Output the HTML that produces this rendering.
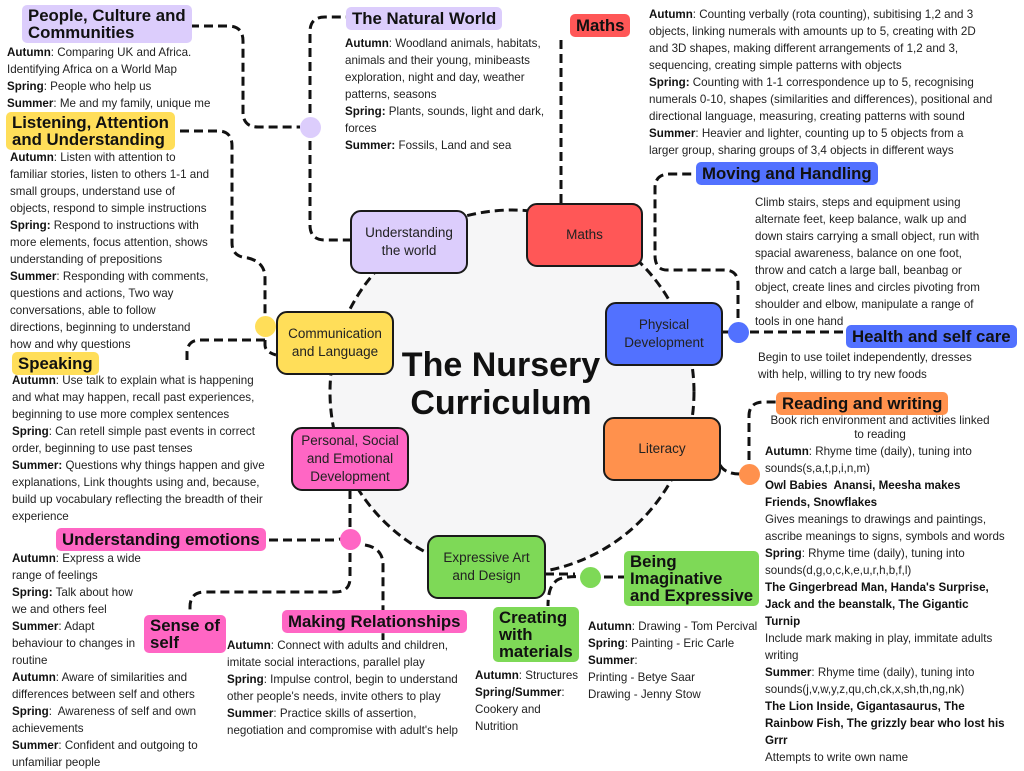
<!DOCTYPE html>
<html><head><meta charset="utf-8"><style>
body{margin:0;width:1024px;height:768px;background:#fff;position:relative;overflow:hidden;font-family:"Liberation Sans",sans-serif}
.t{position:absolute;font-size:11.6px;line-height:17px;color:#222;white-space:nowrap}
.t b{color:#111}
.l{position:absolute;font-weight:bold;font-size:16.8px;line-height:19px;color:#111;padding:2px 6px;border-radius:5px;white-space:nowrap}
.n{position:absolute;border:2px solid #1a1a1a;border-radius:11px;display:flex;align-items:center;justify-content:center;text-align:center;font-size:13.5px;line-height:18px;color:#222;box-sizing:border-box}
.d{position:absolute;border-radius:50%}
</style></head><body>
<svg width="1024" height="768" style="position:absolute;left:0;top:0" fill="none" stroke="#111" stroke-width="3" stroke-dasharray="9 5">
<circle cx="512" cy="392" r="182" fill="#f6f6f7"/>
<path d="M190 26 H228 Q243 26 243 41 V112 Q243 127 258 127 H300"/>
<path d="M310 127 V32 Q310 17 325 17 H346"/>
<path d="M310 127 V225 Q310 240 325 240 H350"/>
<path d="M180 131 H218 Q232 131 232 146 V243 Q232 257 248 258 Q265 262 265 278 V326"/>
<path d="M265 326 V345 Q265 352 276 355"/>
<path d="M265 340 H200 Q188 340 187 352 V360"/>
<path d="M561 203 V40"/>
<path d="M738 332 V284 Q738 270 724 270 H667 Q655 270 655 255 V188 Q655 174 670 174 H696"/>
<path d="M722 332 H846"/>
<path d="M749 474 V416 Q749 402 764 402 H776"/>
<path d="M720 465 Q725 474 740 474"/>
<path d="M545 574 H575"/>
<path d="M590 577 Q560 575 555 582 Q548 588 548 606"/>
<path d="M590 577 H624"/>
<path d="M350 490 V539"/>
<path d="M269 540 H335 Q345 538 350 539"/>
<path d="M350 539 V578 Q350 592 335 592 H205 Q190 592 190 607 V614"/>
<path d="M365 545 Q383 548 383 565 V640"/>
</svg>
<div class="d" style="left:300px;top:117px;width:21px;height:21px;background:#dccdfc"></div>
<div class="d" style="left:255px;top:316px;width:21px;height:21px;background:#ffde59"></div>
<div class="d" style="left:728px;top:322px;width:21px;height:21px;background:#5271ff"></div>
<div class="d" style="left:739px;top:464px;width:21px;height:21px;background:#ff914d"></div>
<div class="d" style="left:340px;top:529px;width:21px;height:21px;background:#ff66c4"></div>
<div class="d" style="left:580px;top:567px;width:21px;height:21px;background:#7ed957"></div>

<div class="n" style="left:350px;top:210px;width:118px;height:64px;background:#dccdfc">Understanding<br>the world</div>
<div class="n" style="left:526px;top:203px;width:117px;height:64px;background:#ff5757">Maths</div>
<div class="n" style="left:605px;top:302px;width:118px;height:64px;background:#5271ff">Physical<br>Development</div>
<div class="n" style="left:276px;top:311px;width:118px;height:64px;background:#ffde59">Communication<br>and Language</div>
<div class="n" style="left:603px;top:417px;width:118px;height:64px;background:#ff914d">Literacy</div>
<div class="n" style="left:291px;top:427px;width:118px;height:64px;background:#ff66c4">Personal, Social<br>and Emotional<br>Development</div>
<div class="n" style="left:427px;top:535px;width:119px;height:64px;background:#7ed957">Expressive Art<br>and Design</div>

<div style="position:absolute;left:370px;top:346px;width:262px;text-align:center;font-weight:bold;font-size:34px;line-height:38px;color:#111">The Nursery<br>Curriculum</div>

<div class="l" style="left:22px;top:5px;background:#dccdfc;line-height:17px">People, Culture and<br>Communities</div>
<div class="l" style="left:346px;top:7px;background:#dccdfc">The Natural World</div>
<div class="l" style="left:570px;top:14px;background:#ff5757">Maths</div>
<div class="l" style="left:6px;top:112px;background:#ffde59;line-height:17px">Listening, Attention<br>and Understanding</div>
<div class="l" style="left:696px;top:162px;background:#5271ff">Moving and Handling</div>
<div class="l" style="left:846px;top:325px;background:#5271ff">Health and self care</div>
<div class="l" style="left:776px;top:392px;background:#ff914d">Reading and writing</div>
<div class="l" style="left:12px;top:352px;background:#ffde59">Speaking</div>
<div class="l" style="left:56px;top:528px;background:#ff66c4">Understanding emotions</div>
<div class="l" style="left:144px;top:615px;background:#ff66c4;line-height:17px">Sense of<br>self</div>
<div class="l" style="left:282px;top:610px;background:#ff66c4">Making Relationships</div>
<div class="l" style="left:493px;top:607px;background:#7ed957;line-height:17px">Creating<br>with<br>materials</div>
<div class="l" style="left:624px;top:551px;background:#7ed957;line-height:17px">Being<br>Imaginative<br>and Expressive</div>

<div class="t" style="left:7px;top:44px"><b>Autumn</b>: Comparing UK and Africa.<br>Identifying Africa on a World Map<br><b>Spring</b>: People who help us<br><b>Summer</b>: Me and my family, unique me</div>
<div class="t" style="left:345px;top:35px"><b>Autumn</b>: Woodland animals, habitats,<br>animals and their young, minibeasts<br>exploration, night and day, weather<br>patterns, seasons<br><b>Spring:</b> Plants, sounds, light and dark,<br>forces<br><b>Summer:</b> Fossils, Land and sea</div>
<div class="t" style="left:649px;top:6px"><b>Autumn</b>: Counting verbally (rota counting), subitising 1,2 and 3<br>objects, linking numerals with amounts up to 5, creating with 2D<br>and 3D shapes, making different arrangements of 1,2 and 3,<br>sequencing, creating simple patterns with objects<br><b>Spring:</b> Counting with 1-1 correspondence up to 5, recognising<br>numerals 0-10, shapes (similarities and differences), positional and<br>directional language, measuring, creating patterns with sound<br><b>Summer</b>: Heavier and lighter, counting up to 5 objects from a<br>larger group, sharing groups of 3,4 objects in different ways</div>
<div class="t" style="left:10px;top:149px"><b>Autumn</b>: Listen with attention to<br>familiar stories, listen to others 1-1 and<br>small groups, understand use of<br>objects, respond to simple instructions<br><b>Spring:</b> Respond to instructions with<br>more elements, focus attention, shows<br>understanding of prepositions<br><b>Summer</b>: Responding with comments,<br>questions and actions, Two way<br>conversations, able to follow<br>directions, beginning to understand<br>how and why questions</div>
<div class="t" style="left:755px;top:194px">Climb stairs, steps and equipment using<br>alternate feet, keep balance, walk up and<br>down stairs carrying a small object, run with<br>spacial awareness, balance on one foot,<br>throw and catch a large ball, beanbag or<br>object, create lines and circles pivoting from<br>shoulder and elbow, manipulate a range of<br>tools in one hand</div>
<div class="t" style="left:758px;top:349px">Begin to use toilet independently, dresses<br>with help, willing to try new foods</div>
<div class="t" style="left:760px;top:414px;width:240px;text-align:center;line-height:14px">Book rich environment and activities linked<br>to reading</div>
<div class="t" style="left:765px;top:443px"><b>Autumn</b>: Rhyme time (daily), tuning into<br>sounds(s,a,t,p,i,n,m)<br><b>Owl Babies&nbsp; Anansi, Meesha makes<br>Friends, Snowflakes</b><br>Gives meanings to drawings and paintings,<br>ascribe meanings to signs, symbols and words<br><b>Spring</b>: Rhyme time (daily), tuning into<br>sounds(d,g,o,c,k,e,u,r,h,b,f,l)<br><b>The Gingerbread Man, Handa's Surprise,<br>Jack and the beanstalk, The Gigantic<br>Turnip</b><br>Include mark making in play, immitate adults<br>writing<br><b>Summer</b>: Rhyme time (daily), tuning into<br>sounds(j,v,w,y,z,qu,ch,ck,x,sh,th,ng,nk)<br><b>The Lion Inside, Gigantasaurus, The<br>Rainbow Fish, The grizzly bear who lost his<br>Grrr</b><br>Attempts to write own name</div>
<div class="t" style="left:12px;top:372px"><b>Autumn</b>: Use talk to explain what is happening<br>and what may happen, recall past experiences,<br>beginning to use more complex sentences<br><b>Spring</b>: Can retell simple past events in correct<br>order, beginning to use past tenses<br><b>Summer:</b> Questions why things happen and give<br>explanations, Link thoughts using and, because,<br>build up vocabulary reflecting the breadth of their<br>experience</div>
<div class="t" style="left:12px;top:550px"><b>Autumn</b>: Express a wide<br>range of feelings<br><b>Spring:</b> Talk about how<br>we and others feel<br><b>Summer</b>: Adapt<br>behaviour to changes in<br>routine<br><b>Autumn</b>: Aware of similarities and<br>differences between self and others<br><b>Spring</b>:&nbsp; Awareness of self and own<br>achievements<br><b>Summer</b>: Confident and outgoing to<br>unfamiliar people</div>
<div class="t" style="left:227px;top:637px"><b>Autumn</b>: Connect with adults and children,<br>imitate social interactions, parallel play<br><b>Spring</b>: Impulse control, begin to understand<br>other people's needs, invite others to play<br><b>Summer</b>: Practice skills of assertion,<br>negotiation and compromise with adult's help</div>
<div class="t" style="left:475px;top:667px"><b>Autumn</b>: Structures<br><b>Spring/Summer</b>:<br>Cookery and<br>Nutrition</div>
<div class="t" style="left:588px;top:618px"><b>Autumn</b>: Drawing - Tom Percival<br><b>Spring</b>: Painting - Eric Carle<br><b>Summer</b>:<br>Printing - Betye Saar<br>Drawing - Jenny Stow</div>
</body></html>
